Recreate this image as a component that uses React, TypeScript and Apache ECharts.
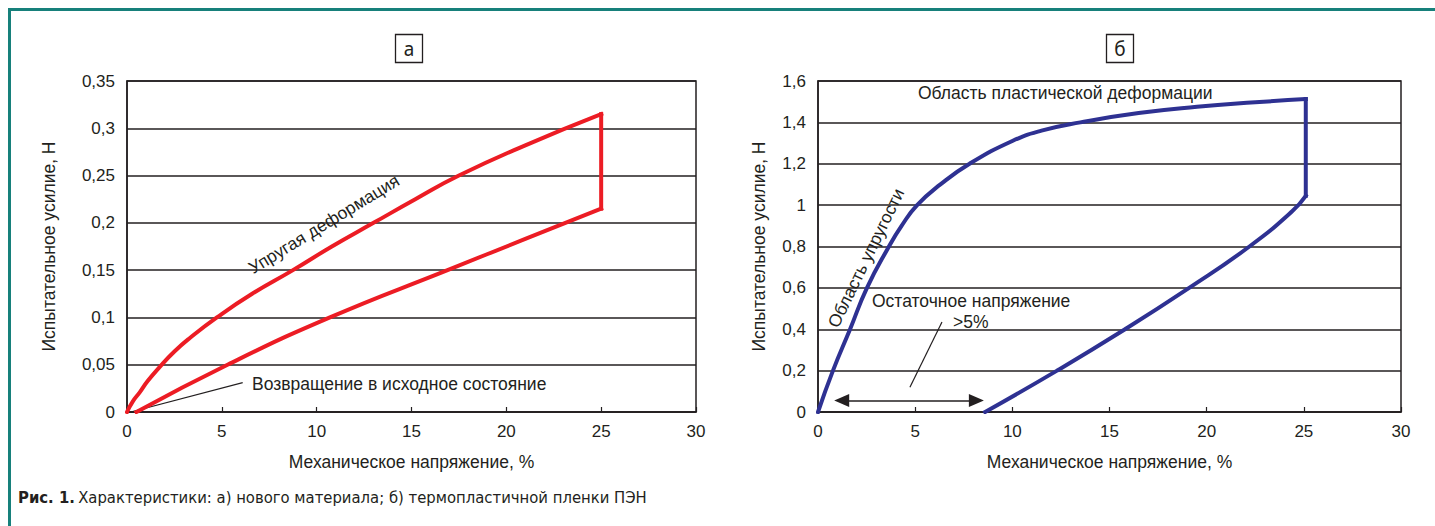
import React, { useEffect, useRef } from "react";
import * as echarts from "echarts";

// ---- data ----
const xTicks = ["0", "5", "10", "15", "20", "25", "30"];
const yTicksA = ["0", "0,05", "0,1", "0,15", "0,2", "0,25", "0,3", "0,35"];
const yTicksB = ["0", "0,2", "0,4", "0,6", "0,8", "1", "1,2", "1,4", "1,6"];

// chart a (new material)
const loadA: number[][] = [
  [0, 0], [0.3, 0.011], [0.68, 0.021], [1.1, 0.033], [1.74, 0.048], [2.5, 0.064], [3.3, 0.078],
  [4.74, 0.1], [6.6, 0.125], [8.75, 0.15], [10.8, 0.175], [13, 0.2], [15.2, 0.225], [17.5, 0.25],
  [21, 0.282], [25, 0.315],
];
const dropA: number[][] = [[25, 0.315], [25, 0.215]];
const unloadA: number[][] = [
  [0.5, 0], [5.3, 0.05], [10.7, 0.1], [16.9, 0.15], [21, 0.183], [25, 0.215],
];
const returnLineA: number[][] = [[0.2, 0], [6.1, 0.031]];

// chart б (thermoplastic film)
const loadB: number[][] = [
  [0, 0], [0.77, 0.2], [1.65, 0.4], [2.52, 0.6], [3.65, 0.8], [4.3, 0.9], [5.1, 1.0], [6.3, 1.1],
  [7.8, 1.2], [10, 1.31], [11.5, 1.36], [13.5, 1.4], [16.5, 1.445], [19.5, 1.475],
  [22.5, 1.497], [25.1, 1.513],
];
const dropB: number[][] = [[25.1, 1.513], [25.1, 1.045]];
const unloadB: number[][] = [
  [8.6, 0], [12.3, 0.2], [15.8, 0.4], [19.1, 0.6], [22.2, 0.8], [24.4, 0.97], [25.1, 1.045],
];
const residualArrowB: number[][] = [[1.22, 0.055], [8.15, 0.055]];
const residualPointerB: number[][] = [[4.73, 0.12], [6.38, 0.435]];

const RED = "#ec1c24";
const NAVY = "#2e3192";
const INK = "#231f20";
const TEAL = "#17807b";
const FONT = "'Liberation Sans', Arial, sans-serif";
const NARROW = "'Liberation Sans Narrow', 'DejaVu Sans Condensed', sans-serif";
const TXT = 17.5;
const TICK = 17;

export default function App() {
  const ref = useRef<HTMLDivElement>(null);
  useEffect(() => {
    if (!ref.current) return;
    const chart = echarts.init(ref.current, undefined, { renderer: "svg" });

    const xAxisCommon = (gridIndex: number) => ({
      type: "value" as const,
      gridIndex,
      min: 0,
      max: 30,
      interval: 5,
      name: "Механическое напряжение, %",
      nameLocation: "middle" as const,
      nameGap: 41,
      nameTextStyle: { color: INK, fontSize: TXT, fontFamily: FONT },
      axisLine: { show: true, lineStyle: { color: INK, width: 1.5 } },
      axisTick: { show: true, inside: true, length: 5, lineStyle: { color: INK, width: 1.2 } },
      splitLine: { show: false },
      axisLabel: {
        color: INK,
        fontSize: TICK,
        fontFamily: FONT,
        margin: 11,
        formatter: (v: number) => xTicks[Math.round(v / 5)] ?? "",
      },
    });

    const yAxisCommon = (gridIndex: number, max: number, interval: number, ticks: string[], gap: number) => ({
      type: "value" as const,
      gridIndex,
      min: 0,
      max,
      interval,
      name: "Испытательное усилие, Н",
      nameLocation: "middle" as const,
      nameRotate: 90,
      nameGap: gap,
      nameTextStyle: { color: INK, fontSize: TXT, fontFamily: FONT },
      axisLine: { show: true, lineStyle: { color: INK, width: 1.5 } },
      axisTick: { show: false },
      splitLine: { show: true, lineStyle: { color: INK, width: 1.5 } },
      axisLabel: {
        color: INK,
        fontSize: TICK,
        fontFamily: FONT,
        margin: 12,
        formatter: (v: number) => ticks[Math.round(v / interval)] ?? "",
      },
    });

    const curve = (data: number[][], color: string, xi: number, smooth: number | boolean) => ({
      type: "line" as const,
      xAxisIndex: xi,
      yAxisIndex: xi,
      data,
      smooth,
      symbol: "none",
      silent: true,
      lineStyle: { color, width: 4, cap: "square", join: "miter" },
      z: 5,
    });

    const annotLine = (pts: number[][], xi: number, symbols: string[], width: number) => ({
      type: "line" as const,
      xAxisIndex: xi,
      yAxisIndex: xi,
      data: [],
      silent: true,
      markLine: {
        silent: true,
        symbol: symbols,
        symbolSize: [13, 15],
        label: { show: false },
        lineStyle: { color: INK, width, type: "solid" },
        emphasis: { disabled: true },
        data: [[{ coord: pts[0] }, { coord: pts[1] }]],
      },
    });

    const txt = (x: number, y: number, text: string, opts: any = {}) => ({
      type: "text",
      x,
      y,
      rotation: opts.rotation ?? 0,
      style: {
        text,
        fill: INK,
        font: `${opts.size ?? TXT}px ${opts.family ?? FONT}`,
        align: opts.align ?? "left",
        verticalAlign: "middle",
      },
      z: 20,
    });

    chart.setOption({
      animation: false,
      backgroundColor: "#ffffff",
      grid: [
        { left: 127, top: 81, width: 569, height: 331, show: true, borderColor: INK, borderWidth: 1.5, backgroundColor: "transparent" },
        { left: 818, top: 81, width: 583, height: 331, show: true, borderColor: INK, borderWidth: 1.5, backgroundColor: "transparent" },
      ],
      xAxis: [xAxisCommon(0), xAxisCommon(1)],
      yAxis: [
        yAxisCommon(0, 0.35, 0.05, yTicksA, 69),
        yAxisCommon(1, 1.6, 0.2, yTicksB, 50),
      ],
      series: [
        curve(loadA, RED, 0, 0.5),
        curve(dropA, RED, 0, false),
        curve(unloadA, RED, 0, 0.5),
        annotLine(returnLineA, 0, ["none", "none"], 1.2),
        curve(loadB, NAVY, 1, 0.5),
        curve(dropB, NAVY, 1, false),
        curve(unloadB, NAVY, 1, 0.5),
        annotLine(residualArrowB, 1, ["triangle", "triangle"], 1.5),
        annotLine(residualPointerB, 1, ["none", "none"], 1.2),
      ],
      graphic: [
        { type: "rect", shape: { x: 8, y: 8, width: 1427, height: 3 }, style: { fill: TEAL }, z: 30 },
        { type: "rect", shape: { x: 8, y: 8, width: 3, height: 518 }, style: { fill: TEAL }, z: 30 },
        { type: "rect", shape: { x: 395.5, y: 34.5, width: 27, height: 28 }, style: { fill: "none", stroke: INK, lineWidth: 1.3 }, z: 20 },
        txt(409, 49, "а", { size: 19, align: "center", family: "'Noto Sans', sans-serif" }),
        { type: "rect", shape: { x: 1106.5, y: 34.5, width: 27, height: 28 }, style: { fill: "none", stroke: INK, lineWidth: 1.3 }, z: 20 },
        txt(1120, 49, "б", { size: 19, align: "center", family: "'Noto Sans', sans-serif" }),
        txt(252, 384, "Возвращение в исходное состояние"),
        txt(324, 224, "Упругая деформация", { align: "center", rotation: (31.5 * Math.PI) / 180 }),
        txt(918, 93, "Область пластической деформации"),
        txt(866, 258, "Область упругости", { align: "center", rotation: (64 * Math.PI) / 180 }),
        txt(872, 301, "Остаточное напряжение"),
        txt(953, 322, ">5%"),
        {
          type: "text",
          x: 18,
          y: 497,
          style: {
            text: "{b|Рис. 1.} {n|Характеристики: а) нового материала; б) термопластичной пленки ПЭН}",
            verticalAlign: "middle",
            rich: {
              b: { font: `bold 16.5px ${NARROW}`, fill: INK },
              n: { font: `16.5px ${NARROW}`, fill: INK },
            },
          },
          z: 20,
        },
      ],
    });
    return () => chart.dispose();
  }, []);
  return (
    <div
      ref={ref}
      style={{ position: "absolute", left: 0, top: 0, width: 1435, height: 526, background: "#fff" }}
    />
  );
}
